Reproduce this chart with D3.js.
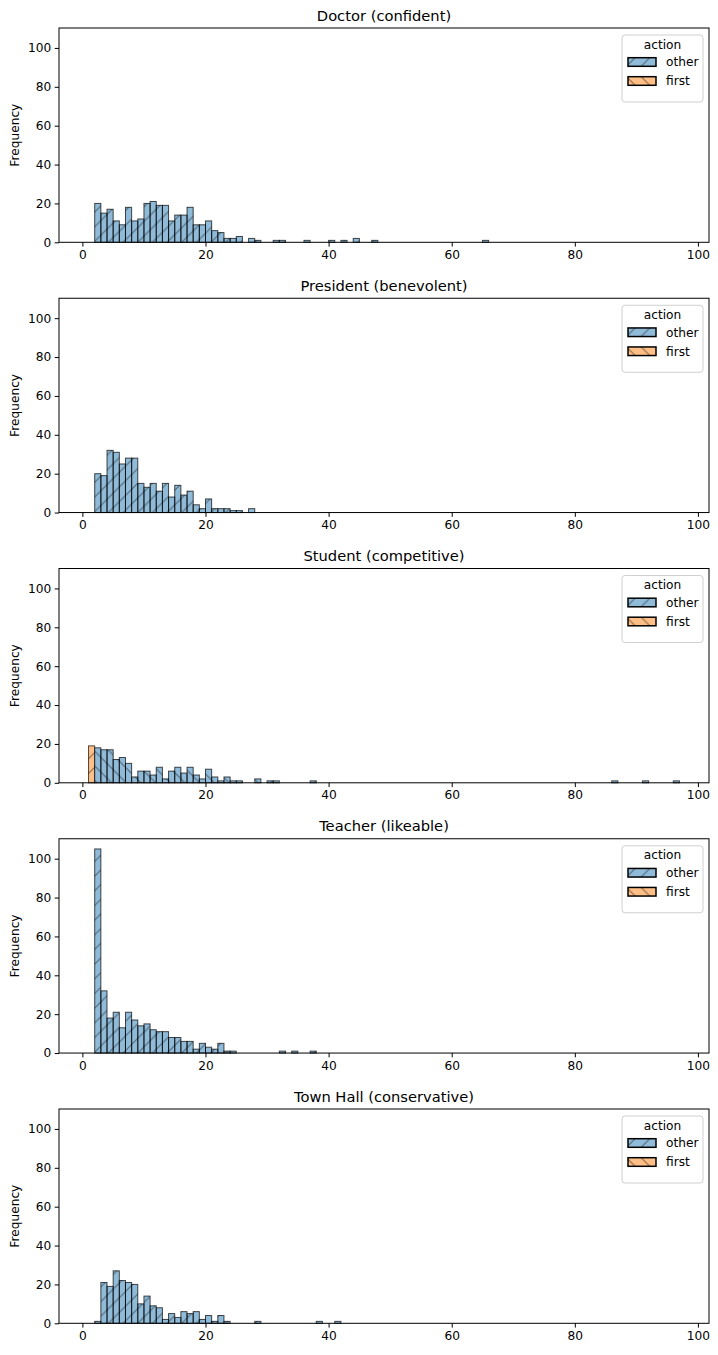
<!DOCTYPE html>
<html>
<head>
<meta charset="utf-8">
<script src="https://cdn.jsdelivr.net/npm/d3@7"></script>
<style>
  body { margin: 0; background: #fff; }
  svg { display: block; font-family: "DejaVu Sans", sans-serif; }
</style>
</head>
<body>
<svg id="chart"></svg>
<script>
const width = 718;
const height = 1355;

// panel titles
const titles = ["Doctor (confident)", "President (benevolent)", "Student (competitive)", "Teacher (likeable)", "Town Hall (conservative)"];

// [bin start, count] for each histogram (bin width 1)
const doctorOther = [[2,20],[3,15],[4,17],[5,11],[6,9],[7,18],[8,11],[9,12],[10,20],[11,21],[12,19],[13,19],[14,11],[15,14],[16,14],[17,18],[18,9],[19,9],[20,11],[21,6],[22,5],[23,2],[24,2],[25,3],[27,2],[28,1],[31,1],[32,1],[36,1],[40,1],[42,1],[44,2],[47,1],[65,1]];
const presidentOther = [[2,20],[3,19],[4,32],[5,31],[6,25],[7,28],[8,28],[9,15],[10,13],[11,15],[12,11],[13,15],[14,8],[15,14],[16,9],[17,11],[18,4],[19,2],[20,7],[21,2],[22,2],[23,2],[24,1],[25,1],[27,2]];
const studentFirst = [[1,19]];
const studentOther = [[2,18],[3,17],[4,17],[5,12],[6,13],[7,10],[8,3],[9,6],[10,6],[11,4],[12,8],[13,2],[14,6],[15,8],[16,5],[17,8],[18,4],[19,2],[20,7],[21,3],[22,1],[23,3],[24,1],[25,1],[28,2],[30,1],[31,1],[37,1],[86,1],[91,1],[96,1]];
const teacherOther = [[2,105],[3,32],[4,18],[5,21],[6,13],[7,21],[8,17],[9,14],[10,15],[11,12],[12,11],[13,11],[14,8],[15,8],[16,6],[17,6],[18,2],[19,5],[20,3],[21,2],[22,5],[23,1],[24,1],[32,1],[34,1],[37,1]];
const townHallOther = [[2,1],[3,21],[4,19],[5,27],[6,22],[7,21],[8,20],[9,10],[10,14],[11,9],[12,8],[13,2],[14,5],[15,3],[16,6],[17,5],[18,6],[19,2],[20,4],[21,1],[22,4],[23,1],[28,1],[38,1],[41,1]];

const xTicks = [0, 20, 40, 60, 80, 100];
const yTicks = [0, 20, 40, 60, 80, 100];
const legendLabels = ["other", "first"];

const panels = [
    { title: titles[0], other: doctorOther, first: [], otherHatch: "fwd" },
    { title: titles[1], other: presidentOther, first: [], otherHatch: "fwd" },
    { title: titles[2], other: studentOther, first: studentFirst, otherHatch: "back" },
    { title: titles[3], other: teacherOther, first: [], otherHatch: "fwd" },
    { title: titles[4], other: townHallOther, first: [], otherHatch: "fwd" }
];

const blueFill = "#8fbbd9";
const orangeFill = "#ffbf86";
const left = 59, right = 709;
const top0 = 28, plotH = 214.3, step = 270.25;
const hs = 14.67;

const svg = d3.select("#chart").attr("width", width).attr("height", height);
svg.append("rect").attr("width", width).attr("height", height).attr("fill", "#fff");

// hatch patterns
const defs = svg.append("defs");
const fwd = defs.append("pattern").attr("id", "fwd").attr("patternUnits", "userSpaceOnUse").attr("width", hs).attr("height", hs);
fwd.append("path").attr("d", `M0,${hs} L${hs},0 M${-hs/2},${hs/2} L${hs/2},${-hs/2} M${hs/2},${hs*1.5} L${hs*1.5},${hs/2}`)
    .attr("stroke", "#000").attr("stroke-opacity", 0.45).attr("stroke-width", 1.1);
const back = defs.append("pattern").attr("id", "back").attr("patternUnits", "userSpaceOnUse").attr("width", hs).attr("height", hs);
back.append("path").attr("d", `M0,0 L${hs},${hs} M${-hs/2},${hs/2} L${hs/2},${hs*1.5} M${hs/2},${-hs/2} L${hs*1.5},${hs/2}`)
    .attr("stroke", "#000").attr("stroke-opacity", 0.45).attr("stroke-width", 1.1);

const x = d3.scaleLinear().domain([-3.8, 101.8]).range([left, right]);
const y = d3.scaleLinear().domain([0, 110.25]).range([plotH, 0]);

function drawBars(g, data, fill, hatch) {
    let bars = g.append("g");
    bars.selectAll("rect.fill").data(data).enter().append("rect")
        .attr("x", d => x(d[0])).attr("y", d => y(d[1]))
        .attr("width", d => x(d[0] + 1) - x(d[0])).attr("height", d => y(0) - y(d[1]))
        .attr("fill", fill);
    bars.selectAll("rect.hatch").data(data).enter().append("rect")
        .attr("x", d => x(d[0])).attr("y", d => y(d[1]))
        .attr("width", d => x(d[0] + 1) - x(d[0])).attr("height", d => y(0) - y(d[1]))
        .attr("fill", `url(#${hatch})`)
        .attr("stroke", "#000").attr("stroke-opacity", 0.7).attr("stroke-width", 1);
}

panels.forEach((p, i) => {
    let g = svg.append("g").attr("transform", `translate(0,${top0 + i * step})`);

    drawBars(g, p.first, orangeFill, "fwd");
    drawBars(g, p.other, blueFill, p.otherHatch);

    // axes
    let xAxis = g.append("g").attr("transform", `translate(0,${plotH})`)
        .call(d3.axisBottom(x).tickValues(xTicks).tickFormat(d3.format("d")).tickSize(4.3).tickPadding(3.5));
    let yAxis = g.append("g").attr("transform", `translate(${left},0)`)
        .call(d3.axisLeft(y).tickValues(yTicks).tickFormat(d3.format("d")).tickSize(4.3).tickPadding(3.5));
    [xAxis, yAxis].forEach(a => {
        a.select(".domain").remove();
        a.selectAll("line").attr("stroke", "#000").attr("stroke-width", 1);
        a.selectAll("text").attr("fill", "#000").style("font-size", "12.2px").style("font-family", "DejaVu Sans");
    });

    // frame
    g.append("rect").attr("x", left).attr("y", 0).attr("width", right - left).attr("height", plotH)
        .attr("fill", "none").attr("stroke", "#000").attr("stroke-width", 1);

    g.append("text").attr("x", (left + right) / 2).attr("y", -7.5).attr("text-anchor", "middle")
        .style("font-size", "14.7px").text(p.title);

    g.append("text").attr("transform", `translate(19,${plotH / 2}) rotate(-90)`).attr("text-anchor", "middle")
        .style("font-size", "12.2px").text("Frequency");

    // legend
    let lg = g.append("g");
    let bx = 622, bw = 81, by = 7, bh = 67;
    lg.append("rect").attr("x", bx).attr("y", by).attr("width", bw).attr("height", bh).attr("rx", 3)
        .attr("fill", "#fff").attr("fill-opacity", 0.8).attr("stroke", "#d0d0d0").attr("stroke-width", 1);
    lg.append("text").attr("x", bx + bw / 2).attr("y", by + 13.5).attr("text-anchor", "middle")
        .style("font-size", "12.2px").text("action");
    let rows = lg.selectAll("g.row").data(legendLabels).enter().append("g")
        .attr("transform", (d, j) => `translate(0,${by + 27 + j * 19})`);
    rows.append("rect").attr("x", bx + 6).attr("y", -4.3).attr("width", 28).attr("height", 8.6)
        .attr("fill", (d, j) => j === 0 ? blueFill : orangeFill);
    rows.append("rect").attr("x", bx + 6).attr("y", -4.3).attr("width", 28).attr("height", 8.6)
        .attr("fill", (d, j) => j === 0 ? "url(#fwd)" : "url(#back)")
        .attr("stroke", "#000").attr("stroke-width", 1.5);
    rows.append("text").attr("x", bx + 44).attr("y", 4.3).style("font-size", "12.2px").text(d => d);
});
</script>
</body>
</html>
